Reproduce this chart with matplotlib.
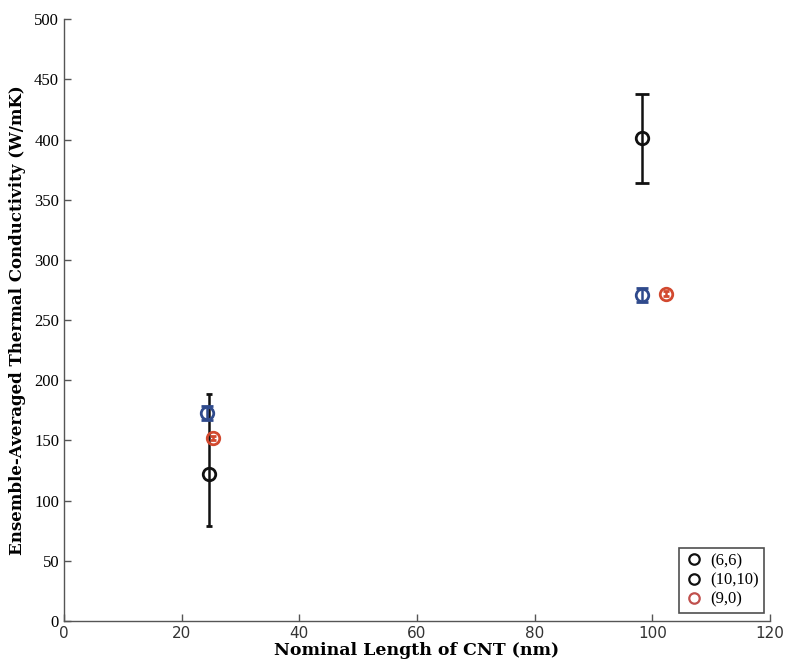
import matplotlib

matplotlib.use("Agg")
import matplotlib.pyplot as plt
from matplotlib.lines import Line2D

# Ensemble-averaged thermal conductivity per chirality, two nominal lengths
x_66 = [24.3, 98.2]
k_66 = [173.0, 271.0]
err_66 = [6.0, 6.0]

x_1010 = [24.7, 98.3]
k_1010 = [122.0, 401.0]
err_1010_low = [43.0, 37.0]
err_1010_high = [67.0, 37.0]

x_90 = [25.3, 102.3]
k_90 = [152.0, 272.0]
err_90 = [2.0, 2.0]

legend_labels = ["(6,6)", "(10,10)", "(9,0)"]

color_66 = "#2f4a8c"
color_1010 = "#111111"
color_90 = "#d2492f"
spine_color = "#555555"

fig = plt.figure(figsize=(7.85, 6.61), dpi=100)
ax = fig.add_axes([0.0815, 0.0605, 0.8995, 0.9105])

marker_kw = dict(fmt="o", markersize=9, markerfacecolor="none",
                 markeredgewidth=2.0, elinewidth=1.8, capthick=1.8)

# short length: narrow caps; long length: wide caps
ax.errorbar(x_1010[:1], k_1010[:1], yerr=[err_1010_low[:1], err_1010_high[:1]],
            color=color_1010, capsize=2, **marker_kw)
ax.errorbar(x_1010[1:], k_1010[1:], yerr=[err_1010_low[1:], err_1010_high[1:]],
            color=color_1010, capsize=5, **marker_kw)
ax.errorbar(x_66, k_66, yerr=err_66, color=color_66, capsize=4, **marker_kw)
ax.errorbar(x_90, k_90, yerr=err_90, color=color_90, capsize=2, **marker_kw)

ax.set_xlim(0, 120)
ax.set_ylim(0, 500)
ax.set_xticks(range(0, 121, 20))
ax.set_yticks(range(0, 501, 50))

for side in ("top", "right"):
    ax.spines[side].set_visible(False)
for side in ("left", "bottom"):
    ax.spines[side].set_color(spine_color)
    ax.spines[side].set_linewidth(1.0)

ax.tick_params(direction="in", length=5, color=spine_color, width=1.0)
for label in ax.get_yticklabels():
    label.set_fontfamily("Liberation Serif")
    label.set_fontsize(12)
for label in ax.get_xticklabels():
    label.set_fontfamily("DejaVu Sans")
    label.set_fontsize(11)
    label.set_color("#333333")

ax.set_xlabel("Nominal Length of CNT (nm)", family="DejaVu Serif",
              fontweight="bold", fontsize=12.5, labelpad=1)
ax.set_ylabel("Ensemble-Averaged Thermal Conductivity (W/mK)", family="DejaVu Serif",
              fontweight="bold", fontsize=12, labelpad=6)

handles = [
    Line2D([], [], linestyle="none", marker="o", markersize=7.5,
           markerfacecolor="none", markeredgecolor=c, markeredgewidth=1.6)
    for c in (color_1010, color_1010, "#c0504d")
]
leg = ax.legend(handles, legend_labels, loc="lower right",
                bbox_to_anchor=(1.003, 0.0), frameon=True, fancybox=False,
                shadow=False, handletextpad=0.3, borderpad=0.3,
                labelspacing=0.2, handlelength=1.3,
                prop={"family": "Liberation Serif", "size": 12})
leg.get_frame().set_edgecolor("#222222")
leg.get_frame().set_linewidth(1.2)

fig.savefig("out.png", dpi=100, facecolor="white")
